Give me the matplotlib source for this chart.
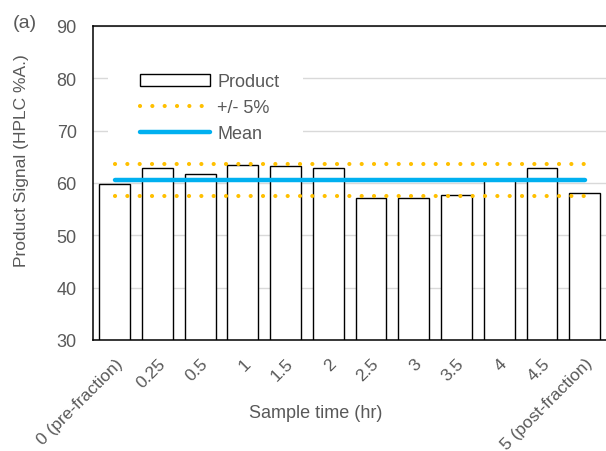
import numpy as np
import matplotlib.pyplot as plt
from matplotlib.patches import Patch, Rectangle
from matplotlib.lines import Line2D

plt.rcParams['font.family'] = ['Liberation Sans', 'DejaVu Sans']

times = ["0 (pre-fraction)", "0.25", "0.5", "1", "1.5", "2", "2.5", "3",
         "3.5", "4", "4.5", "5 (post-fraction)"]
signal = [59.8, 62.8, 61.7, 63.4, 63.3, 62.9, 57.2, 57.2, 57.7, 60.7, 62.8, 58.0]
yticks = [30, 40, 50, 60, 70, 80, 90]

grey = '#595959'
fs = 13
x = np.arange(len(times))
mean = np.mean(signal)
upper = mean * 1.05
lower = mean * 0.95

fig = plt.figure(figsize=(6.06, 4.52), dpi=100)
ax = fig.add_axes([0.154, 0.2456, 0.846, 0.695])

ax.bar(x, signal, width=0.72, color='white', edgecolor='black', linewidth=1.0, zorder=2)
dots = dict(color='#ffc000', lw=3.0, linestyle=(0, (0.01, 2.95)), dash_capstyle='round', zorder=3)
ax.plot([x[0], x[-1]], [upper, upper], **dots)
ax.plot([x[0], x[-1]], [lower, lower], **dots)
ax.plot([x[0], x[-1]], [mean, mean], color='#00b0f0', lw=3.2, solid_capstyle='round', zorder=4)

ax.set_ylim(30, 90)
ax.set_xlim(-0.5, len(times) - 0.5)
ax.set_yticks(yticks)
ax.yaxis.grid(True, color='#d9d9d9', lw=1.0, zorder=0)
ax.set_axisbelow(True)
ax.set_xticks(x)
ax.set_xticklabels(times, rotation=45, ha='right', va='top', rotation_mode='anchor')
ax.tick_params(axis='y', length=0, pad=12, labelsize=fs, labelcolor=grey)
ax.tick_params(axis='x', length=0, pad=11, labelsize=12.5, labelcolor=grey)
for s in ['left', 'top', 'bottom']:
    ax.spines[s].set_color('black')
    ax.spines[s].set_linewidth(1.1)
ax.spines['right'].set_visible(False)

ax.set_ylabel("Product Signal (HPLC %A.)", fontsize=12.5, color=grey, va='center')
ax.yaxis.set_label_coords(-0.140, 0.573)
ax.set_xlabel("Sample time (hr)", fontsize=fs, color=grey, va='center')
ax.xaxis.set_label_coords(0.4346, -0.232)

# white legend background hiding the gridlines
ax.add_patch(Rectangle((0.0283, 0.624), 0.38, 0.271, transform=ax.transAxes,
                       facecolor='white', edgecolor='none', zorder=1))

handles = [Patch(facecolor='white', edgecolor='black', linewidth=1.0),
           Line2D([], [], **dots),
           Line2D([], [], color='#00b0f0', lw=3.2, solid_capstyle='round')]
leg = ax.legend(handles, ["Product", "+/- 5%", "Mean"], loc='upper left',
                bbox_to_anchor=(0.0907, 0.849), borderaxespad=0, borderpad=0,
                handlelength=3.9, handletextpad=0.4, labelspacing=0.5,
                fontsize=fs, frameon=False)
for t in leg.get_texts():
    t.set_color(grey)
leg.set_zorder(5)

fig.text(13 / 606, 1 - 24 / 452, "(a)", fontsize=14, color=grey, ha='left', va='center')

fig.savefig("out.png", dpi=100)
